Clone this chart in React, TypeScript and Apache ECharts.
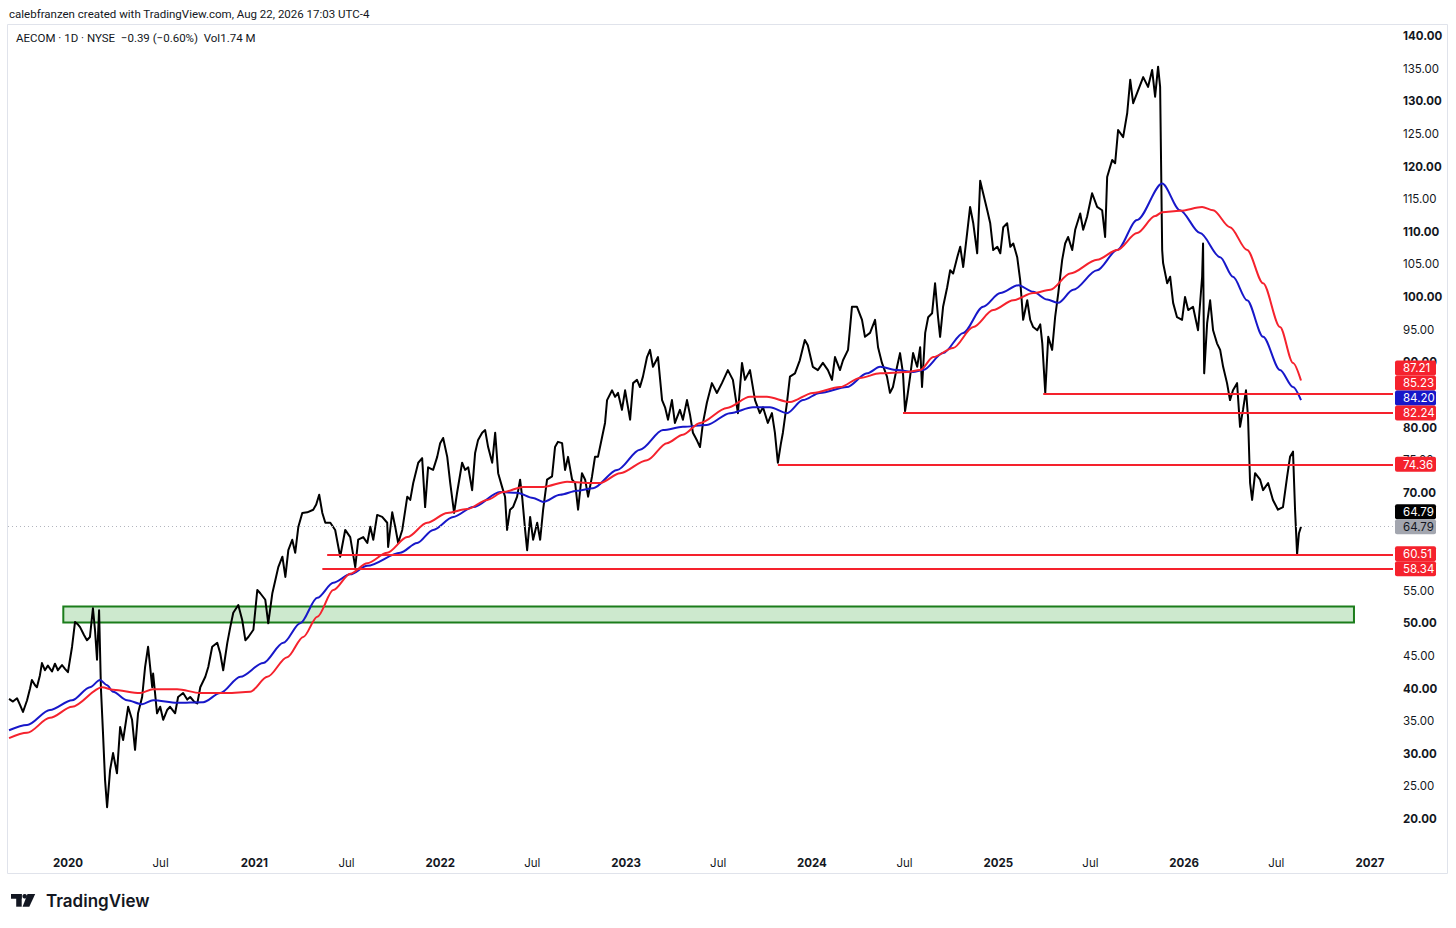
import React, { useEffect, useRef } from "react";
import * as echarts from "echarts";

// ---- Data (time as decimal year, price in USD) ----
const price2019: [number, number][] = [
  [2019.683, 38.4], [2019.704, 38.0], [2019.726, 38.5], [2019.742, 37.5], [2019.758, 36.4], [2019.78, 38.2],
  [2019.796, 40.0], [2019.806, 41.3], [2019.823, 40.5], [2019.833, 40.2], [2019.849, 42.0], [2019.86, 43.9],
  [2019.876, 42.8], [2019.892, 43.5], [2019.914, 42.6], [2019.93, 43.8], [2019.946, 42.8], [2019.968, 43.6],
  [2019.984, 43.0],
];
const price2020: [number, number][] = [
  [2020.0, 42.5], [2020.022, 46.4], [2020.038, 50.2], [2020.054, 49.8], [2020.065, 49.4], [2020.086, 48.2],
  [2020.102, 47.4], [2020.118, 47.9], [2020.134, 52.3], [2020.145, 49.0], [2020.156, 44.4], [2020.167, 52.0],
  [2020.177, 40.0], [2020.188, 33.2], [2020.199, 26.0], [2020.21, 21.8], [2020.226, 27.5], [2020.242, 30.1],
  [2020.263, 27.0], [2020.28, 34.1], [2020.296, 32.1], [2020.323, 37.2], [2020.344, 35.2], [2020.36, 30.6],
  [2020.376, 36.2], [2020.398, 38.7], [2020.414, 43.3], [2020.43, 46.4], [2020.452, 40.2], [2020.457, 42.3],
  [2020.478, 36.2], [2020.495, 37.2], [2020.511, 35.2], [2020.532, 36.7], [2020.548, 37.2], [2020.575, 36.2],
  [2020.591, 38.7], [2020.618, 39.3], [2020.64, 38.3], [2020.656, 38.7], [2020.677, 38.0], [2020.694, 37.7],
  [2020.71, 40.2], [2020.737, 41.8], [2020.753, 43.3], [2020.774, 46.4], [2020.801, 47.0], [2020.817, 45.4],
  [2020.833, 42.8], [2020.855, 47.0], [2020.871, 49.4], [2020.887, 51.6], [2020.914, 52.8], [2020.935, 50.5],
  [2020.952, 47.4], [2020.968, 47.9], [2020.995, 49.0],
];
const price2021: [number, number][] = [
  [2021.016, 55.1], [2021.032, 54.6], [2021.059, 53.6], [2021.075, 50.0], [2021.097, 54.6], [2021.113, 56.6],
  [2021.129, 58.6], [2021.151, 60.2], [2021.167, 57.1], [2021.183, 61.2], [2021.204, 62.8], [2021.22, 60.8],
  [2021.237, 64.8], [2021.258, 66.9], [2021.285, 67.0], [2021.317, 67.4], [2021.333, 68.2], [2021.349, 69.7],
  [2021.366, 66.9], [2021.382, 65.4], [2021.409, 65.4], [2021.435, 64.3], [2021.462, 60.2], [2021.489, 64.3],
  [2021.516, 63.2], [2021.543, 58.6], [2021.559, 62.8], [2021.586, 63.2], [2021.608, 62.3], [2021.624, 64.8],
  [2021.64, 62.8], [2021.661, 66.6], [2021.688, 66.3], [2021.715, 65.4], [2021.72, 61.7], [2021.742, 67.0],
  [2021.758, 64.8], [2021.774, 62.3], [2021.796, 64.3], [2021.823, 69.4], [2021.839, 68.9], [2021.855, 71.5],
  [2021.882, 74.6], [2021.903, 75.3], [2021.919, 67.8], [2021.935, 73.9], [2021.962, 73.5], [2021.984, 75.5],
];
const price2022: [number, number][] = [
  [2022.0, 77.6], [2022.016, 78.4], [2022.038, 75.5], [2022.054, 71.5], [2022.075, 66.9], [2022.091, 70.0],
  [2022.118, 74.6], [2022.134, 73.5], [2022.151, 73.9], [2022.172, 70.4], [2022.188, 76.1], [2022.204, 78.1],
  [2022.226, 79.2], [2022.242, 79.6], [2022.258, 77.0], [2022.28, 74.6], [2022.296, 79.2], [2022.312, 73.0],
  [2022.333, 70.9], [2022.349, 69.4], [2022.36, 64.3], [2022.376, 67.4], [2022.392, 67.8], [2022.414, 69.4],
  [2022.43, 72.0], [2022.441, 69.4], [2022.457, 64.3], [2022.468, 61.2], [2022.484, 66.3], [2022.5, 62.8],
  [2022.522, 65.4], [2022.538, 62.8], [2022.554, 67.4], [2022.575, 72.0], [2022.602, 72.5], [2022.618, 77.0],
  [2022.634, 77.8], [2022.656, 77.6], [2022.672, 73.5], [2022.688, 75.5], [2022.71, 72.0], [2022.726, 71.5],
  [2022.742, 67.4], [2022.763, 73.0], [2022.78, 72.0], [2022.796, 69.4], [2022.817, 72.5], [2022.833, 75.5],
  [2022.849, 75.5], [2022.871, 78.5], [2022.887, 80.7], [2022.898, 84.2], [2022.925, 85.7], [2022.941, 84.7],
  [2022.957, 85.3], [2022.978, 82.7], [2022.995, 85.7],
];
const price2023: [number, number][] = [
  [2023.022, 81.2], [2023.038, 86.8], [2023.059, 87.3], [2023.075, 86.2], [2023.091, 87.8], [2023.113, 90.8],
  [2023.129, 91.9], [2023.145, 89.3], [2023.172, 90.8], [2023.194, 84.2], [2023.21, 83.1], [2023.226, 81.2],
  [2023.247, 84.2], [2023.263, 80.7], [2023.29, 82.7], [2023.306, 81.2], [2023.328, 84.2], [2023.344, 82.0],
  [2023.36, 79.2], [2023.382, 78.0], [2023.398, 77.0], [2023.414, 80.7], [2023.435, 83.8], [2023.462, 86.8],
  [2023.489, 85.3], [2023.516, 86.8], [2023.548, 88.8], [2023.575, 87.3], [2023.602, 82.2], [2023.624, 89.9],
  [2023.64, 87.3], [2023.667, 88.8], [2023.694, 84.2], [2023.72, 82.2], [2023.737, 83.1], [2023.763, 80.7],
  [2023.785, 82.2], [2023.801, 79.2], [2023.817, 74.6], [2023.833, 77.5], [2023.844, 79.2], [2023.866, 83.8],
  [2023.882, 87.8], [2023.909, 88.3], [2023.935, 90.3], [2023.962, 93.4], [2023.978, 92.6],
];
const price2024: [number, number][] = [
  [2024.005, 89.3], [2024.032, 88.8], [2024.059, 89.9], [2024.086, 88.8], [2024.108, 87.3], [2024.124, 90.8],
  [2024.151, 88.8], [2024.167, 90.3], [2024.194, 91.9], [2024.215, 98.5], [2024.242, 98.5], [2024.269, 96.5],
  [2024.285, 93.9], [2024.312, 94.5], [2024.339, 96.5], [2024.355, 92.3], [2024.376, 89.9], [2024.403, 87.8],
  [2024.419, 85.3], [2024.435, 86.2], [2024.457, 89.3], [2024.473, 91.4], [2024.489, 88.3], [2024.5, 82.5],
  [2024.511, 84.5], [2024.527, 87.8], [2024.543, 91.4], [2024.565, 89.3], [2024.581, 92.3], [2024.591, 86.2],
  [2024.608, 94.5], [2024.624, 96.9], [2024.645, 97.5], [2024.661, 102.1], [2024.677, 96.9], [2024.688, 93.9],
  [2024.704, 98.5], [2024.726, 101.5], [2024.742, 104.1], [2024.758, 103.6], [2024.78, 106.1], [2024.796, 107.7],
  [2024.812, 104.6], [2024.833, 109.8], [2024.849, 113.8], [2024.866, 111.3], [2024.887, 106.7], [2024.903, 117.8],
  [2024.919, 115.9], [2024.941, 113.3], [2024.957, 111.3], [2024.973, 107.2], [2024.995, 107.7],
];
const price2025: [number, number][] = [
  [2025.011, 106.7], [2025.027, 110.7], [2025.048, 111.3], [2025.065, 107.7], [2025.081, 108.2], [2025.102, 106.1],
  [2025.118, 102.6], [2025.134, 96.5], [2025.156, 99.5], [2025.172, 96.5], [2025.188, 95.4], [2025.21, 94.9],
  [2025.226, 95.8], [2025.237, 92.9], [2025.253, 85.3], [2025.269, 93.9], [2025.29, 91.9], [2025.306, 96.9],
  [2025.323, 100.6], [2025.344, 105.7], [2025.36, 108.2], [2025.376, 109.2], [2025.398, 107.2], [2025.414, 110.3],
  [2025.441, 112.8], [2025.457, 110.3], [2025.478, 112.3], [2025.505, 115.9], [2025.532, 113.8], [2025.559, 113.3],
  [2025.575, 109.2], [2025.586, 118.4], [2025.613, 121.0], [2025.629, 120.5], [2025.645, 125.6], [2025.672, 124.5],
  [2025.694, 128.2], [2025.71, 133.3], [2025.726, 129.7], [2025.753, 131.7], [2025.78, 133.7], [2025.806, 132.2],
  [2025.828, 134.8], [2025.844, 130.7], [2025.86, 135.3], [2025.871, 132.2], [2025.882, 107.2], [2025.887, 105.2],
  [2025.909, 102.1], [2025.925, 103.1], [2025.941, 99.1], [2025.962, 96.9], [2025.989, 96.5],
];
const price2026: [number, number][] = [
  [2026.005, 100.0], [2026.022, 98.0], [2026.048, 98.5], [2026.075, 94.9], [2026.097, 103.1], [2026.102, 108.2],
  [2026.108, 88.3], [2026.124, 96.0], [2026.14, 99.5], [2026.156, 94.9], [2026.177, 92.9], [2026.194, 91.9],
  [2026.21, 89.3], [2026.231, 86.8], [2026.247, 84.2], [2026.263, 85.7], [2026.285, 86.8], [2026.301, 80.1],
  [2026.317, 82.7], [2026.333, 85.7], [2026.344, 81.6], [2026.355, 71.5], [2026.366, 68.9], [2026.382, 73.0],
  [2026.409, 72.0], [2026.425, 70.4], [2026.452, 71.5], [2026.478, 68.9], [2026.505, 67.4], [2026.532, 67.8],
  [2026.554, 72.4], [2026.57, 75.5], [2026.586, 76.3], [2026.597, 67.4], [2026.608, 60.6], [2026.618, 63.8],
  [2026.629, 64.79],
];

const blueMA: [number, number][] = [
  [2019.683, 33.6], [2019.78, 34.4], [2019.903, 36.7], [2020.022, 38.2], [2020.118, 40.2], [2020.172, 41.3],
  [2020.21, 40.5], [2020.242, 39.5], [2020.317, 38.2], [2020.398, 37.6], [2020.457, 38.2], [2020.586, 37.8],
  [2020.726, 37.9], [2020.817, 39.3], [2020.925, 41.8], [2021.048, 43.9], [2021.156, 47.0], [2021.247, 50.0],
  [2021.339, 53.9], [2021.425, 56.2], [2021.516, 57.5], [2021.608, 58.8], [2021.785, 60.8], [2021.876, 62.3],
  [2021.962, 64.3], [2022.07, 66.3], [2022.177, 67.8], [2022.323, 70.1], [2022.414, 70.0], [2022.5, 69.2],
  [2022.554, 68.6], [2022.645, 69.7], [2022.737, 70.3], [2022.823, 70.7], [2022.952, 73.5], [2023.075, 76.6],
  [2023.199, 79.6], [2023.306, 80.1], [2023.435, 80.4], [2023.559, 82.2], [2023.683, 83.1], [2023.774, 83.1],
  [2023.866, 82.2], [2023.952, 84.2], [2024.043, 85.3], [2024.188, 86.2], [2024.296, 88.3], [2024.366, 89.3],
  [2024.457, 88.8], [2024.543, 88.5], [2024.597, 88.8], [2024.704, 91.4], [2024.812, 94.5], [2024.919, 98.5],
  [2025.011, 100.6], [2025.108, 101.8], [2025.188, 100.8], [2025.263, 99.6], [2025.323, 99.1], [2025.403, 101.1],
  [2025.532, 104.1], [2025.64, 107.2], [2025.747, 111.8], [2025.882, 117.4], [2025.978, 113.3], [2026.086, 109.8],
  [2026.194, 106.1], [2026.263, 103.1], [2026.339, 99.5], [2026.425, 93.9], [2026.516, 88.8], [2026.586, 86.2],
  [2026.629, 84.2],
];
const redMA: [number, number][] = [
  [2019.683, 32.4], [2019.78, 33.2], [2019.903, 35.5], [2020.022, 37.2], [2020.183, 40.2], [2020.242, 39.8],
  [2020.387, 39.3], [2020.457, 39.9], [2020.586, 39.9], [2020.71, 39.3], [2020.855, 39.3], [2020.978, 39.5],
  [2021.07, 41.8], [2021.177, 44.8], [2021.263, 47.9], [2021.339, 51.0], [2021.425, 55.1], [2021.516, 57.6],
  [2021.608, 59.2], [2021.715, 60.8], [2021.823, 63.2], [2021.93, 65.4], [2022.038, 66.9], [2022.145, 67.5],
  [2022.253, 68.9], [2022.339, 70.1], [2022.446, 70.9], [2022.554, 70.9], [2022.683, 71.7], [2022.79, 71.5],
  [2022.86, 71.5], [2022.968, 73.0], [2023.113, 75.0], [2023.22, 77.6], [2023.306, 78.9], [2023.398, 80.7],
  [2023.543, 83.0], [2023.667, 84.7], [2023.758, 84.7], [2023.882, 83.9], [2024.005, 85.3], [2024.151, 86.2],
  [2024.258, 87.6], [2024.366, 88.3], [2024.511, 88.5], [2024.581, 88.8], [2024.651, 90.8], [2024.758, 92.2],
  [2024.866, 95.4], [2024.973, 98.0], [2025.081, 99.5], [2025.188, 100.6], [2025.28, 101.1], [2025.387, 103.6],
  [2025.532, 105.7], [2025.64, 107.2], [2025.747, 109.8], [2025.844, 112.4], [2025.882, 113.0], [2025.978, 113.2],
  [2026.097, 113.8], [2026.156, 113.3], [2026.247, 110.7], [2026.339, 107.2], [2026.425, 102.1], [2026.516, 95.4],
  [2026.586, 89.9], [2026.629, 87.21],
];

const supportLevels = [85.23, 82.24, 74.36, 60.51, 58.34];
const supportStarts = [2025.242, 2024.489, 2023.817, 2021.392, 2021.366];
const zoneLow = 50.1;
const zoneHigh = 52.55;
const zoneStart = 2019.975;
const zoneEnd = 2026.914;
const lastPrice = 64.79;

// price-scale labels (those fully hidden behind the price badges in the reference are left out)
const priceTicks = [20, 25, 30, 35, 40, 45, 50, 55, 70, 75, 80, 90, 95, 100, 105, 110, 115, 120, 125, 130, 135, 140];
const timeTicks = [
  "2020-01-01", "2020-07-01", "2021-01-01", "2021-07-01", "2022-01-01", "2022-07-01", "2023-01-01",
  "2023-07-01", "2024-01-01", "2024-07-01", "2025-01-01", "2025-07-01", "2026-01-01", "2026-07-01", "2027-01-01",
];

const badgeValues = [87.21, 85.23, 84.2, 82.24, 74.36, 64.79, 64.79, 60.51, 58.34];
const badgeKinds = ["red", "red", "blue", "red", "red", "last", "close", "red", "red"];

const viewStart = 2019.6774;
const viewEnd = 2027.124;
const yMin = 15.862;
const yMax = 141.533;

const RED = "#f5222d";
const BLUE = "#1717c9";
const FONT = "Inter, 'Noto Sans', sans-serif";
const HEAD_FONT = "Roboto, 'Liberation Sans', sans-serif";
const TEXT = "#131722";

function yearToTime(y: number): number {
  const yr = Math.floor(y);
  const a = Date.UTC(yr, 0, 1);
  const b = Date.UTC(yr + 1, 0, 1);
  return a + (y - yr) * (b - a);
}

const toSeries = (arr: [number, number][]) => arr.map(([t, v]) => [yearToTime(t), v]);

export default function App() {
  const ref = useRef<HTMLDivElement>(null);

  useEffect(() => {
    if (!ref.current) return;
    const chart = echarts.init(ref.current, null, { renderer: "svg" });
    const priceData = [
      ...price2019, ...price2020, ...price2021, ...price2022,
      ...price2023, ...price2024, ...price2025, ...price2026,
    ];
    const tEnd = yearToTime(viewEnd);
    const tStart = yearToTime(viewStart);

    const option: any = {
      animation: false,
      backgroundColor: "#ffffff",
      textStyle: { fontFamily: FONT },
      grid: { left: 8, top: 26, width: 1385, height: 820, containLabel: false },
      xAxis: {
        type: "value",
        min: tStart,
        max: tEnd,
        scale: true,
        axisLine: { show: false },
        axisTick: { show: false },
        splitLine: { show: false },
        axisLabel: {
          customValues: timeTicks.map((d) => Date.parse(d)),
          margin: 11,
          formatter: (v: number) => {
            const d = new Date(v);
            return d.getUTCMonth() === 0 ? `{y|${d.getUTCFullYear()}}` : `{m|Jul}`;
          },
          rich: {
            y: { fontFamily: FONT, fontSize: 11.5, fontWeight: "bold", color: TEXT },
            m: { fontFamily: FONT, fontSize: 11.5, color: TEXT },
          },
        },
      },
      yAxis: {
        type: "value",
        position: "right",
        min: yMin,
        max: yMax,
        axisLine: { show: false },
        axisTick: { show: false },
        splitLine: { show: false },
        axisLabel: {
          customValues: priceTicks,
          margin: 10,
          formatter: (v: number) => (v % 10 === 0 ? `{b|${v.toFixed(2)}}` : `{n|${v.toFixed(2)}}`),
          rich: {
            b: { fontFamily: FONT, fontSize: 11.5, fontWeight: "bold", color: TEXT },
            n: { fontFamily: FONT, fontSize: 11.5, color: TEXT },
          },
        },
      },
      series: [
        {
          type: "line",
          name: "AECOM",
          data: toSeries(priceData),
          showSymbol: false,
          lineStyle: { color: "#000000", width: 2, join: "round" },
          z: 3,
          markArea: {
            silent: true,
            itemStyle: { color: "rgba(76,175,80,0.28)", borderColor: "#1b7d1b", borderWidth: 2 },
            data: [[{ coord: [yearToTime(zoneStart), zoneHigh] }, { coord: [yearToTime(zoneEnd), zoneLow] }]],
          },
          markLine: {
            silent: true,
            symbol: ["none", "none"],
            label: { show: false },
            lineStyle: { color: RED, width: 2, type: "solid" },
            data: [
              ...supportLevels.map((v, i) => [
                { coord: [yearToTime(supportStarts[i]), v] },
                { coord: [tEnd, v] },
              ]),
              [
                { coord: [tStart, lastPrice], lineStyle: { color: "#b2b5be", width: 1, type: [1, 3] } },
                { coord: [tEnd, lastPrice] },
              ],
            ],
          },
        },
        {
          type: "line",
          name: "MA blue",
          data: toSeries(blueMA),
          showSymbol: false,
          smooth: 0.3,
          smoothMonotone: "x",
          lineStyle: { color: BLUE, width: 2 },
          z: 4,
        },
        {
          type: "line",
          name: "MA red",
          data: toSeries(redMA),
          showSymbol: false,
          smooth: 0.3,
          smoothMonotone: "x",
          lineStyle: { color: RED, width: 2 },
          z: 5,
        },
      ],
    };
    chart.setOption(option);

    // price-axis badges, placed through the y scale and stacked upward to avoid overlap
    const ys = badgeValues.map((v) => chart.convertToPixel({ yAxisIndex: 0 }, v) as number);
    const rank = (k: string) => (k === "close" ? 0 : 1);
    const order = badgeValues
      .map((_, i) => i)
      .sort((a, b) => ys[b] - ys[a] || rank(badgeKinds[a]) - rank(badgeKinds[b]));
    const placed: number[] = [];
    let prev = Infinity;
    for (const i of order) {
      const y = Math.min(ys[i], prev - 15);
      placed[i] = y;
      prev = y;
    }
    const colors: Record<string, [string, string]> = {
      red: [RED, "#ffffff"],
      blue: [BLUE, "#ffffff"],
      last: ["#000000", "#ffffff"],
      close: ["#a3a6af", TEXT],
    };
    const badgeEls: any[] = [];
    badgeValues.forEach((v, i) => {
      const [bg, fg] = colors[badgeKinds[i]];
      const yc = placed[i];
      badgeEls.push({
        type: "rect",
        shape: { x: 1395, y: yc - 7.5, width: 41, height: 15, r: 2 },
        style: { fill: bg },
        z: 100,
      });
      badgeEls.push({
        type: "text",
        style: {
          text: v.toFixed(2),
          x: 1403,
          y: yc + 0.5,
          verticalAlign: "middle",
          align: "left",
          fill: fg,
          fontSize: 11.5,
          fontFamily: FONT,
        },
        z: 101,
      });
    });

    const staticEls: any[] = [
      {
        type: "rect",
        shape: { x: 7.5, y: 24.5, width: 1440, height: 849 },
        style: { fill: "none", stroke: "#e0e3eb", lineWidth: 1 },
        silent: true,
        z: 0,
      },
      {
        type: "text",
        style: {
          text: "calebfranzen created with TradingView.com, Aug 22, 2026 17:03 UTC-4",
          x: 9,
          y: 14,
          verticalAlign: "middle",
          fill: TEXT,
          fontSize: 11.5,
          fontFamily: HEAD_FONT,
        },
      },
      {
        type: "text",
        style: {
          text: "AECOM · 1D · NYSE  −0.39 (−0.60%)  Vol1.74 M",
          x: 16,
          y: 38,
          verticalAlign: "middle",
          fill: TEXT,
          fontSize: 11.5,
          fontFamily: HEAD_FONT,
        },
      },
      // TradingView logo
      { type: "rect", shape: { x: 11, y: 894, width: 10.7, height: 4.7 }, style: { fill: "#131722" } },
      { type: "rect", shape: { x: 16.2, y: 894, width: 5.5, height: 12.7 }, style: { fill: "#131722" } },
      { type: "circle", shape: { cx: 24.7, cy: 896.3, r: 2.3 }, style: { fill: "#131722" } },
      {
        type: "polygon",
        shape: { points: [[27.5, 894], [35.2, 894], [29.3, 906.7], [22.6, 906.7]] },
        style: { fill: "#131722" },
      },
      {
        type: "text",
        style: {
          text: "TradingView",
          x: 46,
          y: 901,
          verticalAlign: "middle",
          fill: "#131722",
          fontSize: 17,
          fontWeight: 600,
          fontFamily: FONT,
        },
      },
    ];

    chart.setOption({ graphic: { elements: [...staticEls, ...badgeEls] } });

    return () => chart.dispose();
  }, []);

  return (
    <div
      ref={ref}
      style={{ position: "absolute", left: 0, top: 0, width: 1456, height: 928, background: "#ffffff" }}
    />
  );
}
